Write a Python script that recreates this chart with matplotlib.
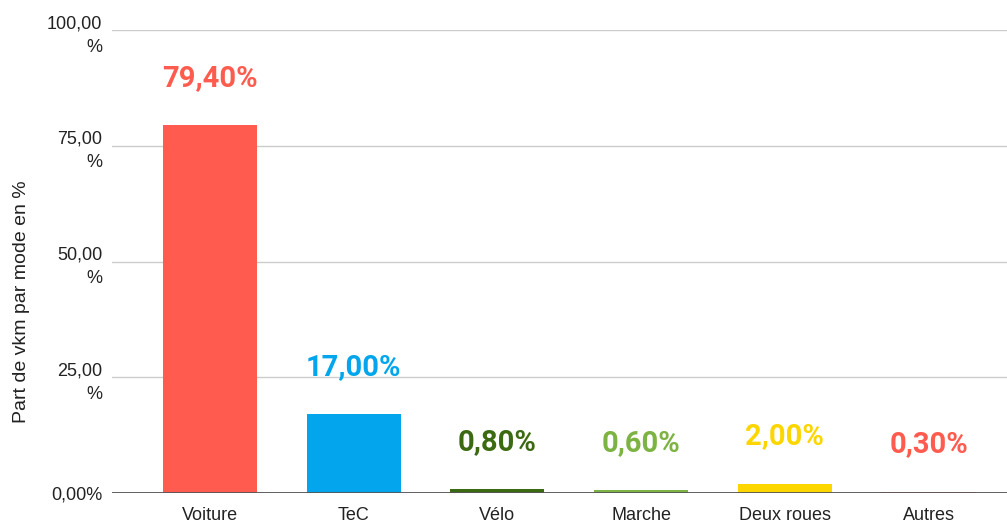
import matplotlib
matplotlib.use("Agg")
import matplotlib.pyplot as plt
import numpy as np

# Part de vkm par mode (%)
MODES = ["Voiture", "TeC", "Vélo", "Marche", "Deux roues", "Autres"]
SHARES = [79.4, 17.0, 0.8, 0.6, 2.0, 0.3]
BAR_COLORS = ["#ff5b4e", "#03a5ec", "#3c6a12", "#7cb342", "#fdd600", "#f8837a"]
LABEL_COLORS = ["#ff5b4e", "#03a5ec", "#3c6a12", "#7cb342", "#fdd600", "#ff5b4e"]
YTICKS = [0, 25, 50, 75, 100]
YTICK_LABELS = ["0,00%", "25,00\n%", "50,00\n%", "75,00\n%", "100,00\n%"]

fig = plt.figure(figsize=(10.07, 5.24), dpi=100)
ax = fig.add_axes([0.1112, 0.0592, 0.8888, 0.8835])

x = np.arange(len(MODES))
ax.bar(x, SHARES, width=0.655, color=BAR_COLORS, zorder=3)

for xi, v, c in zip(x, SHARES, LABEL_COLORS):
    ax.annotate(f"{v:.2f}%".replace(".", ","), (xi, v),
                xytext=(0, 34), textcoords="offset points",
                ha="center", va="center", fontsize=21, fontweight="bold",
                color=c, family=["Roboto", "DejaVu Sans"])

ax.set_ylim(0, 100)
ax.set_xlim(-0.682, 5.546)
ax.set_yticks(YTICKS)
ax.set_yticklabels(YTICK_LABELS, fontsize=13, family="Liberation Sans",
                   color="#222222", multialignment="right", linespacing=1.5)
ax.set_xticks(x)
ax.set_xticklabels(MODES, fontsize=13, family="Liberation Sans", color="#222222")
ax.tick_params(axis="both", length=0)
ax.tick_params(axis="y", pad=7)
ax.tick_params(axis="x", pad=10)

ax.grid(axis="y", color="#cccccc", linewidth=1.0, zorder=0)
for s in ax.spines.values():
    s.set_visible(False)
ax.axhline(0, color="#555555", linewidth=1.3, zorder=4)

fig.text(22 / 1007, 1 - 302 / 524, "Part de vkm par mode en %", rotation=90,
         ha="center", va="center", fontsize=14, family="Liberation Sans",
         color="#222222")

fig.savefig("out.png", dpi=100)
